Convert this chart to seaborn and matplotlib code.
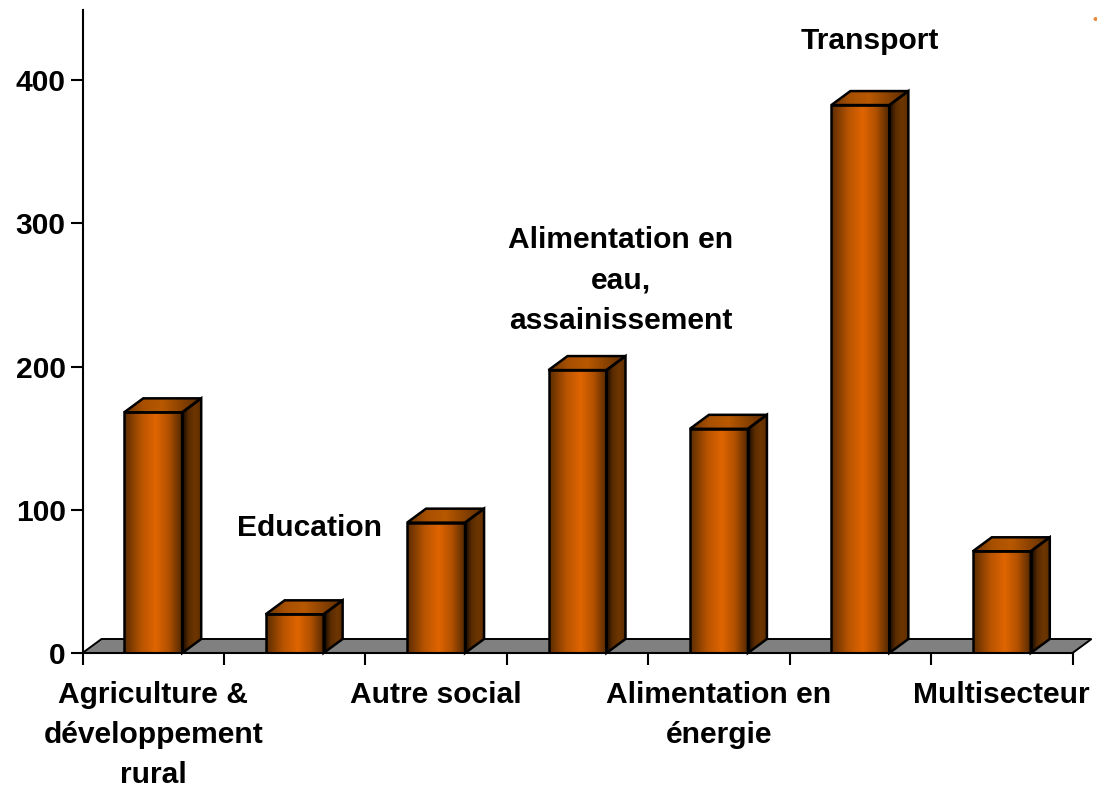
import numpy as np
import pandas as pd
import matplotlib
matplotlib.use('Agg')
import matplotlib.pyplot as plt
import seaborn as sns
from matplotlib.colors import LinearSegmentedColormap
from matplotlib.patches import Polygon

# data
categories = ['Agriculture & développement rural', 'Education', 'Autre social',
              'Alimentation en eau, assainissement', 'Alimentation en énergie',
              'Transport', 'Multisecteur']
values = [168, 27, 91, 197.5, 156.5, 382.5, 71]
yticks = [0, 100, 200, 300, 400]

# labels under the axis / labels floating in the plot
axis_labels = {0: 'Agriculture &\ndéveloppement\nrural', 2: 'Autre social',
               4: 'Alimentation en\nénergie', 6: 'Multisecteur'}
floating_labels = [('Education', 1.105, 87),
                   ('Alimentation en\neau,\nassainissement', 3.305, 260),
                   ('Transport', 5.065, 427.5)]

sns.set_theme(style='white')
plt.rcParams['font.family'] = ['Liberation Sans', 'DejaVu Sans']
plt.rcParams['font.weight'] = 'bold'

W, H = 1097, 788
FS = 21.6
fig = plt.figure(figsize=(W / 100, H / 100), dpi=100)
ax = fig.add_axes([82.5 / W, 1 - 653 / H, 990 / W, 643 / H])

df = pd.DataFrame({'category': categories, 'value': values})
sns.barplot(data=df, x='category', y='value', width=0.41, ax=ax,
            fill=False, edgecolor='black', linewidth=1.8, zorder=5, err_kws={'linewidth': 0})

front = LinearSegmentedColormap.from_list('front', [(0, '#5a2c00'), (0.3, '#b85400'), (0.55, '#e06500'),
                                                    (0.78, '#b05000'), (1, '#532900')])
top = LinearSegmentedColormap.from_list('top', ['#6a3400', '#a85000', '#b85800', '#8a4200', '#5a2c00'])
side = LinearSegmentedColormap.from_list('side', ['#100800', '#5a2c00', '#6e3600', '#5a2c00'])
ramp = np.linspace(0, 1, 128).reshape(1, -1)

dx = 19 / 141.4   # depth of the 3d effect
dy = 14 / 1.4325

# floor
floor = Polygon([(-0.5, 0), (-0.5 + dx, dy), (6.5 + dx, dy), (6.5, 0)], closed=True,
                facecolor='#808080', edgecolor='black', linewidth=1.4, zorder=1, clip_on=False)
ax.add_patch(floor)

for bar in ax.patches[:len(values)]:
    x0, w, h = bar.get_x(), bar.get_width(), bar.get_height()
    x1 = x0 + w
    ax.imshow(ramp, extent=(x0, x1, 0, h), aspect='auto', cmap=front, zorder=4)
    faces = [([(x0, h), (x0 + dx, h + dy), (x1 + dx, h + dy), (x1, h)],
              (x0, x1 + dx, h, h + dy), top),
             ([(x1, 0), (x1, h), (x1 + dx, h + dy), (x1 + dx, dy)],
              (x1, x1 + dx, 0, h + dy), side)]
    for pts, extent, cmap in faces:
        poly = Polygon(pts, closed=True, facecolor='none', edgecolor='black',
                       linewidth=1.8, zorder=5, clip_on=False)
        ax.add_patch(poly)
        im = ax.imshow(ramp, extent=extent, aspect='auto', cmap=cmap, zorder=4, clip_on=True)
        im.set_clip_path(poly)

ax.set_xlim(-0.5, 6.5)
ax.set_ylim(0, 643 / 1.4325)
ax.set_xlabel('')
ax.set_ylabel('')

ax.set_yticks(yticks)
ax.set_yticklabels([str(t) for t in yticks], fontsize=FS, fontweight='bold', color='black')
ax.set_xticks(list(axis_labels.keys()))
ax.set_xticklabels(list(axis_labels.values()), fontsize=FS, fontweight='bold',
                   color='black', linespacing=1.55)
ax.set_xticks(np.arange(-0.5, 7), minor=True)
ax.tick_params(axis='x', which='major', length=0, pad=20)
ax.tick_params(axis='x', which='minor', length=8.6, width=1.5, color='black', bottom=True)
ax.tick_params(axis='y', length=8.6, width=1.5, color='black', left=True, pad=3.5)

sns.despine(ax=ax)
for s in ['left', 'bottom']:
    ax.spines[s].set_color('black')
    ax.spines[s].set_linewidth(1.5)
    ax.spines[s].set_zorder(6)

for txt, x, y in floating_labels:
    ax.text(x, y, txt, ha='center', va='center', fontsize=FS, fontweight='bold',
            color='black', linespacing=1.55, zorder=7)

# small orange dot in the top right corner
fig.text(1095 / W, 1 - 20 / H, '•', color='#e8883a', fontsize=11, ha='center', va='center')

fig.savefig('out.png', dpi=100)
